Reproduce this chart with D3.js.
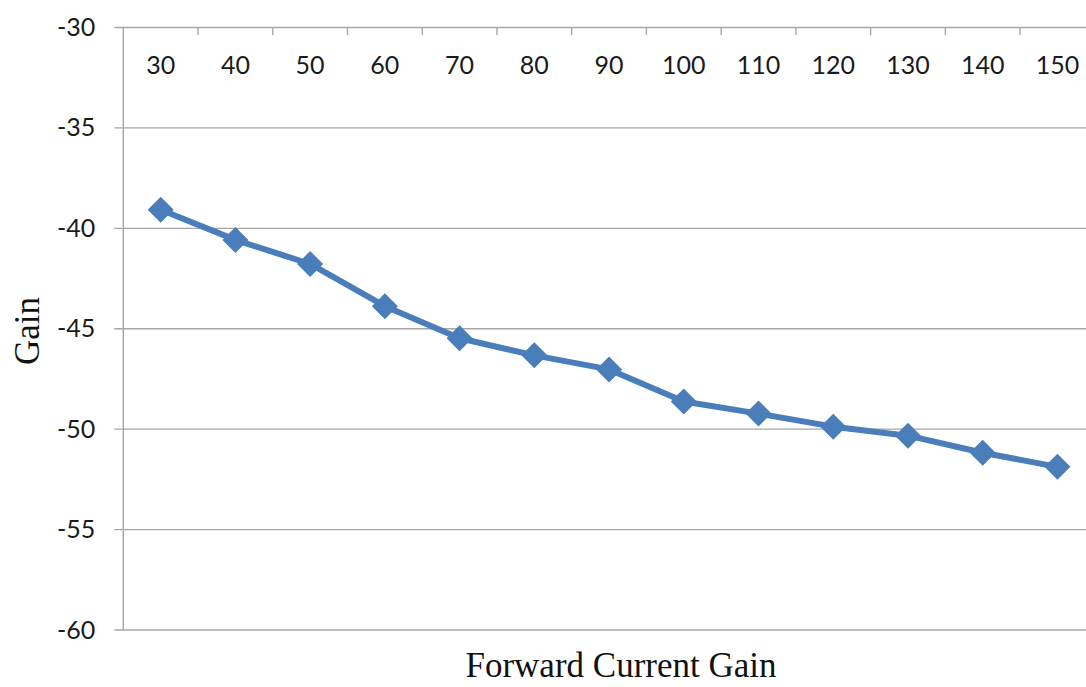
<!DOCTYPE html>
<html>
<head>
<meta charset="utf-8">
<script src="https://cdn.jsdelivr.net/npm/d3@7"></script>
<style>
  html, body { margin: 0; padding: 0; background: #fff; }
  svg { display: block; }
</style>
</head>
<body>
<svg id="chart" width="1086" height="687"></svg>
<script>
// Forward current gain (hFE) categories and the resulting gain
const categories = ["30", "40", "50", "60", "70", "80", "90", "100", "110", "120", "130", "140", "150"];
const gainValues = [-39.1, -40.6, -41.8, -43.9, -45.5, -46.35, -47.05, -48.65, -49.25, -49.9, -50.35, -51.2, -51.9];
const yTicks = [-30, -35, -40, -45, -50, -55, -60];

const svg = d3.select("#chart");
const plotLeft = 123.3, plotRight = 1094.8, plotTop = 27, plotBottom = 629.5;

const x = d3.scaleBand().domain(categories).range([plotLeft, plotRight]).padding(0);
const y = d3.scaleLinear().domain([-60, -30]).range([plotBottom, plotTop]);

const gridColor = "#a6a6a6";
const labelFont = "Lato, 'Open Sans', sans-serif";

// horizontal gridlines with left tick stubs
const yAxis = d3.axisLeft(y).tickValues(yTicks).tickSize(-(plotRight - plotLeft)).tickFormat(d => String(d));
const gy = svg.append("g").attr("transform", `translate(${plotLeft},0)`).call(yAxis);
gy.select(".domain").remove();
gy.selectAll(".tick line")
  .attr("x1", -9)
  .attr("stroke", gridColor).attr("stroke-width", 1.4);
gy.selectAll(".tick text")
  .attr("x", -28)
  .attr("dy", "0.34em")
  .attr("fill", "#1a1a1a")
  .style("font-family", labelFont)
  .style("font-size", "25px");

// vertical axis line
svg.append("line")
  .attr("x1", plotLeft).attr("x2", plotLeft)
  .attr("y1", plotTop).attr("y2", plotBottom)
  .attr("stroke", gridColor).attr("stroke-width", 1.4);

// category axis along the top (at -30), ticks between categories pointing down
const boundaries = categories.slice(1).map(c => x(c));
svg.append("g").selectAll("line")
  .data(boundaries)
  .join("line")
  .attr("x1", d => d).attr("x2", d => d)
  .attr("y1", plotTop).attr("y2", plotTop + 8)
  .attr("stroke", gridColor).attr("stroke-width", 1.4);

svg.append("g").selectAll("text")
  .data(categories)
  .join("text")
  .attr("x", d => x(d) + x.bandwidth() / 2)
  .attr("y", 74)
  .attr("text-anchor", "middle")
  .attr("fill", "#1a1a1a")
  .style("font-family", labelFont)
  .style("font-size", "25px")
  .text(d => d);

// data line
const data = categories.map((c, i) => ({ c, v: gainValues[i] }));
const cx = d => x(d.c) + x.bandwidth() / 2;
const blue = "#4a7ebb";

svg.append("path")
  .datum(data)
  .attr("fill", "none")
  .attr("stroke", blue)
  .attr("stroke-width", 6)
  .attr("stroke-linejoin", "round")
  .attr("d", d3.line().x(cx).y(d => y(d.v)));

// diamond markers
const r = 13;
svg.append("g").selectAll("path")
  .data(data)
  .join("path")
  .attr("fill", blue)
  .attr("d", d => {
    const px = cx(d), py = y(d.v);
    return `M${px},${py - r}L${px + r},${py}L${px},${py + r}L${px - r},${py}Z`;
  });

// axis titles
svg.append("text")
  .attr("x", 621).attr("y", 677)
  .attr("text-anchor", "middle")
  .attr("fill", "#111")
  .style("font-family", "'Liberation Serif', 'Times New Roman', serif")
  .style("font-size", "35px")
  .text("Forward Current Gain");

svg.append("text")
  .attr("transform", "translate(39,331) rotate(-90)")
  .attr("text-anchor", "middle")
  .attr("fill", "#111")
  .style("font-family", "'Liberation Serif', 'Times New Roman', serif")
  .style("font-size", "35px")
  .text("Gain");
</script>
</body>
</html>
